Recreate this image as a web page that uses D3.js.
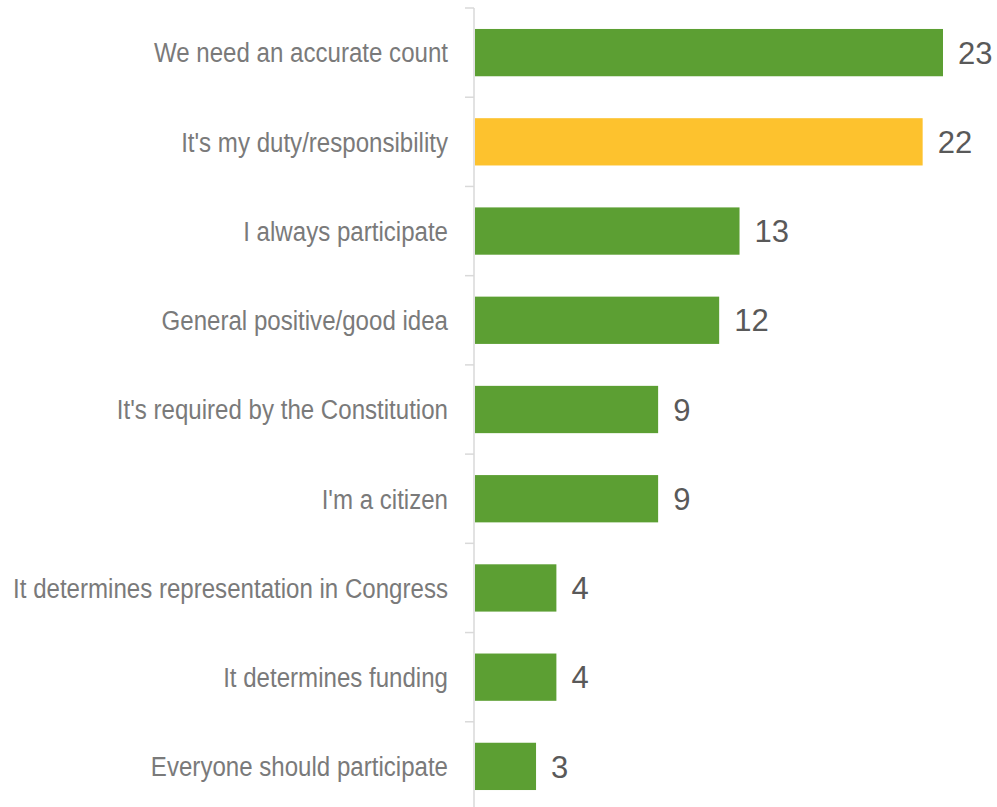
<!DOCTYPE html>
<html>
<head>
<meta charset="utf-8">
<script src="https://cdn.jsdelivr.net/npm/d3@7"></script>
<style>
  html, body { margin: 0; padding: 0; background: #fff; }
  svg { display: block; }
</style>
</head>
<body>
<svg id="chart" width="997" height="807"></svg>
<script>
// Reasons given for participating (counts)
const categories = [
  "We need an accurate count",
  "It's my duty/responsibility",
  "I always participate",
  "General positive/good idea",
  "It's required by the Constitution",
  "I'm a citizen",
  "It determines representation in Congress",
  "It determines funding",
  "Everyone should participate"
];
const values = [23, 22, 13, 12, 9, 9, 4, 4, 3];
const highlighted = ["It's my duty/responsibility"];

const svg = d3.select("#chart");
const axisX = 474;

const x = d3.scaleLinear().domain([0, 23]).range([axisX + 1, 943]);
const y = d3.scaleBand().domain(categories).range([8, 811]).paddingInner(0.47).paddingOuter(0.235);
const yTicks = d3.scaleBand().domain(categories).range([8, 811]);

// category separators and vertical axis line
const axisG = svg.append("g");
axisG.append("line")
  .attr("x1", axisX).attr("x2", axisX)
  .attr("y1", 8).attr("y2", 807)
  .attr("stroke", "#d9d9d9").attr("stroke-width", 1.5);
axisG.selectAll("line.tick")
  .data(categories)
  .join("line")
  .attr("class", "tick")
  .attr("x1", axisX - 9).attr("x2", axisX)
  .attr("y1", d => yTicks(d)).attr("y2", d => yTicks(d))
  .attr("stroke", "#d9d9d9").attr("stroke-width", 1.5);

const data = categories.map((c, i) => ({ c, v: values[i] }));

// bars
svg.append("g").selectAll("rect")
  .data(data)
  .join("rect")
  .attr("x", x(0))
  .attr("y", d => y(d.c))
  .attr("width", d => x(d.v) - x(0))
  .attr("height", y.bandwidth())
  .attr("fill", d => highlighted.includes(d.c) ? "#fdc22e" : "#5c9f33");

// category labels, set in a condensed style
svg.append("g").selectAll("text")
  .data(data)
  .join("text")
  .attr("transform", d => `translate(${axisX - 26},${y(d.c) + y.bandwidth() / 2}) scale(0.86,1)`)
  .attr("dy", "0.35em")
  .attr("text-anchor", "end")
  .attr("font-family", "'Liberation Sans Narrow', 'Liberation Sans', Arial, sans-serif")
  .attr("font-size", 28)
  .attr("fill", "#7a7a7a")
  .text(d => d.c);

// value labels
svg.append("g").selectAll("text")
  .data(data)
  .join("text")
  .attr("x", d => x(d.v) + 15)
  .attr("y", d => y(d.c) + y.bandwidth() / 2)
  .attr("dy", "0.36em")
  .attr("font-family", "'Liberation Sans', Arial, sans-serif")
  .attr("font-size", 31)
  .attr("fill", "#595959")
  .text(d => d.v);
</script>
</body>
</html>
